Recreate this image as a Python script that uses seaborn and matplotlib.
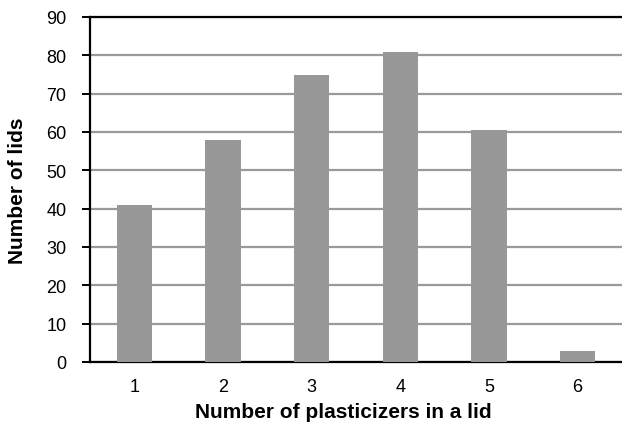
#!/usr/bin/env python3
"""Histogram of plasticizer counts per lid."""

import matplotlib
matplotlib.use("Agg")
import matplotlib.pyplot as plt
import pandas as pd
import seaborn as sns

# Data
categories = ["1", "2", "3", "4", "5", "6"]
lid_counts = [41, 58, 75, 81, 60.5, 3]
y_ticks = [0, 10, 20, 30, 40, 50, 60, 70, 80, 90]

BAR_COLOR = "#989898"
GRID_COLOR = "#9a9a9a"


def main():
    sns.set_style("white")
    plt.rcParams["font.family"] = ["Liberation Sans", "DejaVu Sans"]
    plt.rcParams["text.color"] = "black"
    plt.rcParams["axes.labelcolor"] = "black"
    plt.rcParams["xtick.color"] = "black"
    plt.rcParams["ytick.color"] = "black"

    df = pd.DataFrame({"plasticizers": categories, "lids": lid_counts})

    fig = plt.figure(figsize=(6.22, 4.27), dpi=100)
    ax = fig.add_axes([90 / 622, 1 - 363 / 427, 1 - 90 / 622, (363 - 18) / 427])

    sns.barplot(
        data=df, x="plasticizers", y="lids", order=categories,
        color=BAR_COLOR, width=0.4, saturation=1, linewidth=0, ax=ax, zorder=3,
    )

    ax.set_ylim(0, 90)
    ax.set_yticks(y_ticks)
    ax.set_xlim(-0.5, 5.5)
    ax.yaxis.grid(True, color=GRID_COLOR, linewidth=1.6, zorder=0)
    ax.set_axisbelow(True)

    for side in ["left", "bottom", "top"]:
        ax.spines[side].set_visible(True)
        ax.spines[side].set_color("black")
        ax.spines[side].set_linewidth(1.6)
    ax.spines["right"].set_visible(False)

    ax.tick_params(axis="y", which="both", left=True, length=6, width=1.4,
                   color="black", labelsize=13, pad=11)
    ax.tick_params(axis="x", bottom=False, labelsize=13, pad=8)

    ax.set_xlabel("Number of plasticizers in a lid", fontsize=15,
                  fontweight="bold", labelpad=8)
    ax.xaxis.set_label_coords((343 - 90) / 532, -0.115)
    ax.set_ylabel("Number of lids", fontsize=15, fontweight="bold", labelpad=14)

    fig.savefig("out.png", dpi=100)
    plt.close(fig)


if __name__ == "__main__":
    main()
